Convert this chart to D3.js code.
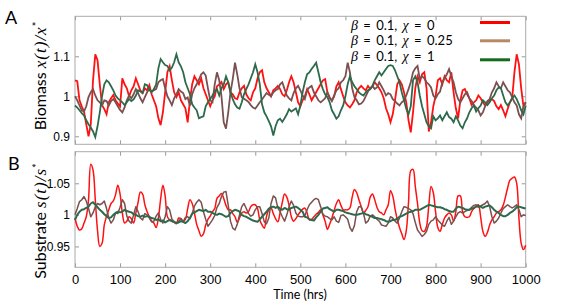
<!DOCTYPE html>
<html>
<head>
<meta charset="utf-8">
<script src="https://cdn.jsdelivr.net/npm/d3@7"></script>
<style>
  body { margin: 0; background: #fff; }
  svg { display: block; font-family: Lato, "Open Sans", sans-serif; }
  .tick line { stroke: #999; }
  .tick text { fill: #000; }
</style>
</head>
<body>
<svg id="chart" width="581" height="301"></svg>
<script>
// sampling times, hrs
var hours = d3.range(0, 1001, 5);

// panel A, biomass x(t)/x*
var biomassChi0 = [
  1.040,1.038,0.990,0.975,0.962,0.930,0.900,0.930,1.040,1.105,
  1.090,1.030,0.978,0.968,0.955,0.985,0.995,1.003,0.990,0.982,
  0.975,1.045,1.030,1.020,1.000,1.015,1.025,1.045,1.030,1.015,
  1.008,1.020,1.015,1.028,1.005,0.990,0.975,0.945,0.928,0.960,
  1.010,1.060,1.075,1.040,1.010,0.998,1.010,0.990,0.980,0.970,
  0.935,0.990,1.030,1.050,1.040,1.030,1.045,1.020,1.005,0.990,
  0.975,0.990,1.000,1.025,1.030,1.036,1.018,1.030,1.035,1.010,
  1.005,0.995,0.993,1.010,1.020,1.026,1.005,0.995,0.990,1.010,
  1.020,1.045,1.060,1.065,1.035,1.020,1.010,1.000,1.015,1.020,
  1.026,1.018,1.005,1.000,1.015,1.035,1.050,1.035,1.010,0.985,
  0.975,0.990,1.000,1.018,1.005,0.990,1.000,1.010,1.020,1.030,
  1.040,1.043,1.010,0.995,0.990,1.000,1.025,1.035,1.018,1.000,
  0.985,0.977,0.972,0.980,0.990,1.010,1.020,1.026,1.020,1.015,
  1.026,1.018,1.025,1.035,1.028,1.020,1.010,0.995,0.970,0.955,
  0.935,0.955,0.990,1.030,1.040,1.030,1.010,0.985,0.940,0.910,
  0.960,1.020,1.050,1.035,1.055,1.060,1.020,0.912,0.935,0.975,
  1.000,1.040,1.045,1.030,1.050,1.040,1.035,1.060,1.010,0.970,
  0.945,0.990,1.015,1.018,1.005,0.995,0.978,0.985,0.990,1.002,
  0.995,0.985,0.977,0.985,0.990,0.993,0.988,0.975,0.968,0.978,
  0.965,0.950,0.968,0.985,0.995,1.060,1.105,1.080,1.020,0.975,
  0.985
];
var biomassChi025 = [
  1.000,0.990,0.977,0.965,0.962,0.975,0.998,1.010,1.018,1.002,
  0.990,0.985,0.977,0.990,0.988,0.977,0.988,0.993,0.985,0.975,
  0.966,0.960,0.972,0.990,1.002,0.995,1.005,1.018,1.008,0.995,
  0.985,0.998,1.010,1.018,1.012,1.015,1.018,1.035,1.040,1.043,
  1.020,1.000,0.990,0.978,0.995,1.005,1.018,1.012,1.008,0.993,
  0.997,0.977,1.005,1.020,1.030,1.042,1.055,1.060,1.052,1.020,
  0.990,0.985,1.030,1.060,1.040,1.000,0.935,0.919,0.960,1.010,
  1.043,1.084,1.055,1.020,0.998,0.994,0.990,0.986,0.978,0.972,
  0.969,0.977,0.985,0.992,1.000,1.008,1.004,1.000,1.010,1.015,
  1.018,1.030,1.035,1.018,1.002,0.995,0.990,1.008,1.020,1.026,
  1.015,1.002,0.993,1.015,1.022,1.026,1.010,1.000,0.990,0.985,
  0.990,0.995,1.010,0.998,0.988,1.002,1.015,1.020,1.035,1.040,
  1.050,1.084,1.060,1.020,0.998,0.990,0.980,0.982,0.988,1.000,
  1.012,1.020,1.026,1.018,1.022,1.035,1.025,1.015,1.002,1.008,
  1.005,0.993,0.988,0.982,0.977,0.985,0.990,1.002,1.018,1.035,
  1.060,1.070,1.076,1.043,1.050,1.045,1.035,1.030,1.022,1.002,
  0.995,1.005,1.012,1.035,1.045,1.055,1.068,1.050,1.035,1.010,
  0.993,0.985,0.995,1.005,1.010,0.995,0.988,0.978,0.972,0.965,
  0.952,0.960,0.975,0.988,0.993,1.010,1.020,1.035,1.025,1.020,
  1.035,1.025,1.015,1.010,0.998,0.985,0.977,0.955,0.945,0.975,
  0.985
];
var biomassChi1 = [
  0.977,0.972,0.965,0.958,0.952,0.940,0.930,0.922,0.912,0.898,
  0.925,0.960,1.000,1.030,1.040,1.035,1.025,1.015,1.002,0.995,
  0.990,0.985,0.978,0.985,0.993,0.988,0.992,1.002,1.015,1.012,
  1.008,1.030,1.028,1.016,1.010,1.018,1.030,1.070,1.093,1.085,
  1.078,1.076,1.065,1.072,1.085,1.105,1.085,1.075,1.060,1.035,
  1.020,1.005,0.980,0.972,0.965,0.945,0.948,0.950,0.975,0.985,
  0.993,1.002,1.012,1.018,1.002,1.020,1.030,1.050,1.035,1.010,
  0.993,0.980,0.972,0.969,0.985,1.005,1.018,1.030,1.045,1.060,
  1.080,1.060,1.030,0.980,0.960,0.950,0.938,0.925,0.902,0.925,
  0.940,0.944,0.936,0.945,0.955,0.968,0.962,0.966,0.970,0.955,
  0.977,1.010,1.035,1.055,1.060,1.068,1.076,1.084,1.060,1.035,
  1.018,1.005,0.998,0.985,0.965,0.955,0.944,0.950,0.965,0.977,
  1.000,1.030,1.050,1.035,1.025,1.018,1.010,1.005,1.002,1.010,
  1.015,1.018,1.026,1.040,1.050,1.060,1.052,1.060,1.068,1.076,
  1.078,1.076,1.065,1.050,1.035,1.010,0.990,0.969,0.955,0.975,
  1.040,1.050,1.035,1.002,0.975,0.955,0.935,0.925,0.920,0.950,
  0.940,0.945,0.952,0.940,0.950,0.960,0.948,0.944,0.935,0.950,
  0.940,0.927,0.920,0.935,0.945,0.960,0.970,0.977,0.962,0.970,
  0.977,0.990,0.985,0.978,0.985,0.995,1.002,1.015,1.022,1.020,
  1.002,0.985,0.977,0.985,0.995,1.002,0.993,0.980,0.965,0.955,
  0.977
];

// panel B, substrate s(t)/s*
var substrateChi0 = [
  0.995,0.982,0.976,0.978,0.987,0.997,1.024,1.080,1.071,1.024,
  0.975,0.950,0.955,0.984,0.998,1.008,1.018,1.022,1.032,1.047,
  1.033,1.003,0.987,0.990,0.997,0.994,0.987,1.003,1.020,1.036,
  1.033,1.016,1.005,0.997,0.990,0.987,0.980,0.995,1.025,1.047,
  1.030,0.997,0.992,0.990,0.988,0.986,0.995,0.994,0.990,0.993,
  1.010,1.024,1.018,1.003,0.985,0.975,0.966,0.970,0.984,0.993,
  0.998,1.005,1.010,1.026,1.030,1.034,1.026,1.015,1.008,1.008,
  1.002,0.997,0.988,0.995,1.003,1.005,1.003,1.005,1.013,1.016,
  1.016,1.010,0.992,0.984,0.979,0.998,1.008,1.011,1.002,0.994,
  0.989,1.003,1.020,1.033,1.028,1.015,0.997,0.990,0.994,1.000,
  1.005,1.009,1.011,1.003,0.992,0.993,0.997,1.001,1.004,1.008,
  1.000,0.990,0.977,0.985,0.995,1.007,1.018,1.024,1.015,1.008,
  1.008,1.008,1.011,1.028,1.040,1.035,1.024,1.013,1.003,1.007,
  1.013,1.028,1.033,1.024,1.012,1.005,1.003,1.000,1.008,1.016,
  1.038,1.030,1.010,0.993,0.980,0.970,0.961,0.975,1.020,1.070,
  1.072,1.045,1.018,0.987,0.975,0.974,0.982,1.015,1.045,1.035,
  1.005,0.980,0.974,0.985,0.995,1.000,1.003,1.000,0.990,1.005,
  1.030,1.030,1.005,0.997,0.996,0.997,1.005,1.010,1.013,1.016,
  0.997,0.974,0.966,0.972,0.984,0.992,0.997,1.003,1.005,1.008,
  1.015,1.028,1.043,1.055,1.058,1.060,1.050,0.995,0.955,0.945,
  0.952
];
var substrateChi025 = [
  1.000,1.010,1.021,1.024,1.029,1.022,1.010,0.997,1.003,1.013,
  1.018,1.016,1.018,1.022,1.010,0.995,0.987,0.992,1.003,1.002,
  1.012,1.024,1.018,0.998,0.990,0.987,1.000,1.013,1.005,0.995,
  0.992,1.002,1.000,0.995,0.989,0.990,0.998,1.003,0.993,0.987,
  0.997,1.013,1.008,0.993,0.989,0.987,0.990,0.994,0.989,0.996,
  0.997,0.994,1.002,1.014,1.020,1.024,1.020,1.005,0.993,0.982,
  0.987,0.992,0.999,1.012,1.018,1.029,1.036,1.037,1.015,0.990,
  0.979,0.976,0.985,1.000,1.013,1.018,1.010,1.002,0.998,1.000,
  1.008,1.013,1.013,1.002,0.989,0.986,0.995,1.018,1.030,1.027,
  1.011,1.005,0.997,0.990,1.000,1.013,1.022,1.015,1.003,0.998,
  0.997,0.997,0.999,1.008,1.016,1.020,1.024,1.026,1.024,1.013,
  1.001,0.998,0.997,0.994,0.992,0.997,0.990,0.988,0.999,1.000,
  0.997,0.993,0.980,0.974,0.983,1.005,1.013,1.013,1.003,0.987,
  0.990,0.998,1.000,0.997,0.993,0.990,0.984,0.983,0.982,0.987,
  0.997,0.995,0.990,0.987,0.995,1.005,1.013,1.012,1.010,1.008,
  1.002,0.988,0.976,0.971,0.966,0.969,0.974,0.985,0.990,0.992,
  0.997,0.992,0.988,0.984,0.982,0.990,0.996,0.985,0.990,0.997,
  1.003,1.005,1.003,1.005,1.007,1.008,1.012,1.015,1.016,1.012,
  1.014,1.016,1.018,1.022,1.013,0.997,0.987,0.990,0.995,1.003,
  1.010,1.013,1.016,1.013,1.011,1.013,1.016,1.008,0.997,1.000,
  0.999
];
var substrateChi1 = [
  0.992,1.000,1.005,1.008,1.009,1.011,1.013,1.018,1.020,1.016,
  1.012,1.008,1.005,1.001,0.998,0.995,0.996,1.000,1.003,1.005,
  1.004,1.005,1.008,1.006,1.005,1.004,1.001,1.000,0.998,0.997,
  0.999,0.997,0.998,0.997,0.995,0.994,0.992,0.993,0.990,0.991,
  0.988,0.990,0.992,0.990,0.989,0.987,0.988,0.990,0.989,0.987,
  0.990,0.995,1.002,1.004,1.006,1.008,1.007,1.006,1.008,1.005,
  1.005,1.003,1.001,1.000,1.002,1.001,0.999,0.997,0.998,1.003,
  1.006,1.008,1.007,1.005,1.000,0.998,0.997,0.995,0.993,0.991,
  0.990,0.989,0.993,0.997,1.001,1.005,1.010,1.012,1.013,1.011,
  1.013,1.010,1.008,1.011,1.009,1.008,1.011,1.012,1.013,1.011,
  1.008,1.005,0.997,0.996,0.993,0.992,0.991,0.996,1.000,1.005,
  1.010,1.011,1.012,1.009,1.007,1.005,1.008,1.008,1.007,1.006,
  1.004,1.003,1.002,1.001,1.000,1.000,1.001,1.002,1.003,1.001,
  1.000,0.998,0.997,0.995,0.995,0.994,0.993,0.992,0.990,0.989,
  0.990,0.992,0.992,0.994,0.997,0.998,1.000,1.002,1.004,1.005,
  1.006,1.008,1.008,1.008,1.010,1.012,1.014,1.016,1.015,1.014,
  1.013,1.012,1.012,1.011,1.009,1.008,1.006,1.005,1.005,1.010,
  1.013,1.012,1.011,1.009,1.008,1.008,1.010,1.011,1.013,1.014,
  1.013,1.011,1.013,1.014,1.015,1.012,1.008,1.005,1.003,1.000,
  0.998,0.998,1.000,1.003,1.005,1.008,1.012,1.013,1.012,1.011,
  1.010
];

var timeTicks = [0, 100, 200, 300, 400, 500, 600, 700, 800, 900, 1000];
var biomassTicks = [0.9, 1, 1.1];
var biomassTickLabels = ['0.9', '1', '1.1'];
var substrateTicks = [0.95, 1, 1.05];
var substrateTickLabels = ['0.95', '1', '1.05'];

var legendBeta = ['0.1', '0.1', '0.1'];
var legendChi = ['0', '0.25', '1'];
var legendColors = ['#ff0000', '#b88a62', '#156b1c'];
var lineColors = ['#ff1111', '#7a5050', '#2d6a4c'];

var svg = d3.select('#chart');

var left = 75, right = 525.7;
var x = d3.scaleLinear().domain([0, 1000]).range([left, right]);
var yTop = d3.scaleLinear().domain([0.88, 1.2]).range([144.3, 16.3]);
var yBot = d3.scaleLinear().domain([0.917, 1.1]).range([267.3, 151.7]);

function drawPanel(y, ticks, tickLabels, showX) {
    var y0 = y.range()[0], y1 = y.range()[1];
    var g = svg.append('g');

    var xb = d3.axisBottom(x).tickValues(timeTicks).tickSizeInner(-4).tickSizeOuter(0).tickPadding(7)
        .tickFormat(showX ? d3.format('d') : '');
    var xt = d3.axisTop(x).tickValues(timeTicks).tickSizeInner(-4).tickSizeOuter(0).tickFormat('');
    var yl = d3.axisLeft(y).tickValues(ticks).tickSizeInner(-4).tickSizeOuter(0).tickPadding(5)
        .tickFormat(function(d, i) { return tickLabels[i]; });
    var yr = d3.axisRight(y).tickValues(ticks).tickSizeInner(-4).tickSizeOuter(0).tickFormat('');

    g.append('g').attr('transform', 'translate(0,' + y0 + ')').call(xb)
        .selectAll('text').style('font-size', '13px');
    g.append('g').attr('transform', 'translate(0,' + y1 + ')').call(xt);
    g.append('g').attr('transform', 'translate(' + left + ',0)').call(yl)
        .selectAll('text').style('font-size', '12px');
    g.append('g').attr('transform', 'translate(' + right + ',0)').call(yr);
    g.selectAll('.domain').remove();

    g.append('rect')
        .attr('x', left).attr('y', y1)
        .attr('width', right - left).attr('height', y0 - y1)
        .attr('fill', 'none').attr('stroke', '#aaa').attr('stroke-width', 1);
    return g;
}

drawPanel(yTop, biomassTicks, biomassTickLabels, false);
drawPanel(yBot, substrateTicks, substrateTickLabels, true);

// lines
var topSeries = [biomassChi0, biomassChi025, biomassChi1];
var botSeries = [substrateChi0, substrateChi025, substrateChi1];

topSeries.forEach(function(vals, k) {
    var line = d3.line()
        .x(function(d, i) { return x(hours[i]); })
        .y(function(d) { return yTop(d); });
    svg.append('path')
        .datum(vals)
        .attr('fill', 'none')
        .attr('stroke', lineColors[k])
        .attr('stroke-width', 1.8)
        .attr('stroke-linejoin', 'miter')
        .attr('d', line);
});

botSeries.forEach(function(vals, k) {
    var line = d3.line()
        .curve(k === 0 ? d3.curveCatmullRom : d3.curveLinear)
        .x(function(d, i) { return x(hours[i]); })
        .y(function(d) { return yBot(d); });
    svg.append('path')
        .datum(vals)
        .attr('fill', 'none')
        .attr('stroke', lineColors[k])
        .attr('stroke-width', k === 2 ? 2 : 1.5)
        .attr('stroke-linejoin', 'round')
        .attr('d', line);
});

// legend
var legendY = [25, 40.5, 56];
var swatchY = [22.5, 40.8, 59.8];
legendChi.forEach(function(c, i) {
    var t = svg.append('text')
        .attr('x', 351).attr('y', legendY[i] + 4.5)
        .style('font-size', '13px')
        .style('word-spacing', '2px');
    t.append('tspan').attr('font-family', '"Liberation Serif", serif').attr('font-style', 'italic')
        .style('font-size', '14px').text('β');
    t.append('tspan').text(' = ' + legendBeta[i] + ', ');
    t.append('tspan').attr('font-family', '"Liberation Serif", serif').attr('font-style', 'italic')
        .style('font-size', '14px').text('χ');
    t.append('tspan').text(' = ' + c);
    svg.append('line')
        .attr('x1', 480).attr('x2', 510)
        .attr('y1', swatchY[i]).attr('y2', swatchY[i])
        .attr('stroke', legendColors[i]).attr('stroke-width', 3);
});

// panel letters
svg.append('text').attr('x', 5).attr('y', 24).style('font-size', '18px').text('A');
svg.append('text').attr('x', 8).attr('y', 170).style('font-size', '18px').text('B');

// axis titles
function yTitle(cx, cy, word, v) {
    var t = svg.append('text')
        .attr('transform', 'translate(' + cx + ',' + cy + ') rotate(-90)')
        .attr('text-anchor', 'middle')
        .style('font-size', '16px');
    t.append('tspan').text(word + ' ');
    t.append('tspan').attr('font-family', '"Liberation Serif", serif').attr('font-style', 'italic')
        .style('font-size', '17px').style('letter-spacing', '1px')
        .text(v + '(t)/' + v);
    t.append('tspan').attr('baseline-shift', '45%').style('font-size', '11px').text('*');
}
yTitle(46, 76, 'Biomass', 'x');
yTitle(46, 221, 'Substrate', 's');

svg.append('text')
    .attr('x', 300).attr('y', 299)
    .attr('text-anchor', 'middle')
    .style('font-size', '12.5px')
    .text('Time (hrs)');
</script>
</body>
</html>
